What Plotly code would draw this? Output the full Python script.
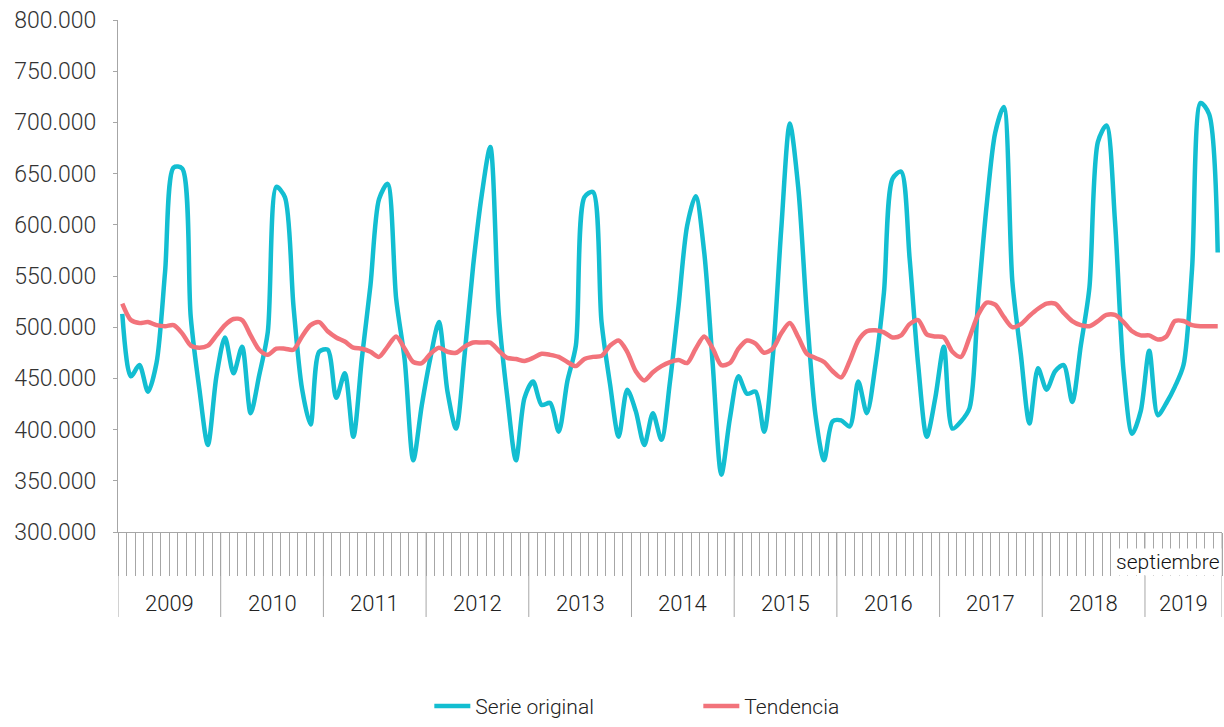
import plotly.graph_objects as go

# ---- data (valores mensuales, ene 2009 - sep 2019) ----
YEARS = ["2009", "2010", "2011", "2012", "2013", "2014",
         "2015", "2016", "2017", "2018", "2019"]
MONTHS_PER_YEAR = [12, 12, 12, 12, 12, 12, 12, 12, 12, 12, 9]
LAST_MONTH = "septiembre"

SERIE_ORIGINAL = [
    513000, 452000, 463000, 437000, 465000, 554000, 656000, 655000, 510000, 440000, 385000, 452000,
    490000, 455000, 481000, 416000, 453000, 495000, 637000, 627000, 521000, 440000, 405000, 476000,
    478000, 431000, 455000, 393000, 470000, 541000, 625000, 640000, 528000, 468000, 370000, 424000,
    470000, 505000, 437000, 401000, 473000, 560000, 629000, 676000, 512000, 431000, 370000, 431000,
    447000, 424000, 426000, 398000, 447000, 482000, 627000, 632000, 505000, 444000, 393000, 439000,
    418000, 385000, 416000, 390000, 447000, 521000, 599000, 628000, 573000, 463000, 356000, 411000,
    452000, 435000, 437000, 398000, 470000, 596000, 699000, 635000, 512000, 414000, 370000, 408000,
    409000, 403000, 447000, 416000, 463000, 534000, 645000, 652000, 567000, 463000, 393000, 431000,
    481000, 401000, 408000, 421000, 525000, 619000, 690000, 715000, 545000, 473000, 406000, 460000,
    439000, 457000, 463000, 427000, 482000, 538000, 681000, 697000, 603000, 457000, 396000, 418000,
    477000, 414000, 426000, 442000, 463000, 557000, 719000, 708000, 573000,
]

TENDENCIA = [
    523000, 507000, 504000, 505000, 502000, 501000, 502000, 494000, 482000, 480000, 482000, 492000,
    502000, 508000, 507000, 492000, 478000, 473000, 479000, 479000, 478000, 491000, 502000, 505000,
    496000, 490000, 486000, 480000, 479000, 476000, 471000, 481000, 491000, 479000, 466000, 465000,
    474000, 480000, 476000, 475000, 481000, 485000, 485000, 485000, 477000, 470000, 469000, 467000,
    470000, 474000, 473000, 471000, 466000, 462000, 469000, 471000, 472000, 482000, 487000, 476000,
    457000, 448000, 456000, 462000, 466000, 468000, 465000, 479000, 491000, 479000, 463000, 465000,
    479000, 487000, 484000, 475000, 479000, 494000, 504000, 490000, 474000, 470000, 466000, 457000,
    451000, 467000, 487000, 496000, 497000, 495000, 490000, 492000, 503000, 507000, 493000, 491000,
    490000, 476000, 471000, 490000, 512000, 524000, 522000, 510000, 500000, 503000, 511000, 518000,
    523000, 523000, 514000, 506000, 502000, 501000, 506000, 512000, 512000, 505000, 496000, 492000,
    492000, 488000, 491000, 506000, 506000, 502000, 501000, 501000, 501000,
]

CYAN = "#13BED1"
RED = "#F2737B"
GRAY = "#A6A6A6"
FONT = "Roboto"

n = len(SERIE_ORIGINAL)
x = list(range(n))

fig = go.Figure()
fig.add_trace(go.Scatter(x=x, y=SERIE_ORIGINAL, name="Serie original", mode="lines",
                         line=dict(color=CYAN, width=4.5, shape="spline", smoothing=0.8)))
fig.add_trace(go.Scatter(x=x, y=TENDENCIA, name="Tendencia", mode="lines",
                         line=dict(color=RED, width=4.5, shape="spline", smoothing=0.8)))

# year labels and dividers below the month ticks
start = 0
bounds = [-0.5]
for year, m in zip(YEARS, MONTHS_PER_YEAR):
    fig.add_annotation(x=start + (m - 1) / 2, y=-0.14, xref="x", yref="paper",
                       text=year, showarrow=False, yanchor="middle",
                       font=dict(family=FONT, size=22, color="#222222", weight=300))
    start += m
    bounds.append(start - 0.5)
for b in bounds:
    fig.add_shape(type="line", xref="x", yref="paper", x0=b, x1=b, y0=0, y1=-0.166,
                  line=dict(color=GRAY, width=1))

fig.add_annotation(x=n - 0.5, y=-0.058, xref="x", yref="paper", text=LAST_MONTH,
                   showarrow=False, xanchor="right", yanchor="middle", bgcolor="white",
                   borderpad=1, font=dict(family=FONT, size=21, color="#111111", weight=300))

fig.update_layout(
    width=1224, height=727,
    margin=dict(l=118, r=2, t=20, b=194),
    plot_bgcolor="white", paper_bgcolor="white",
    separators=",.",
    font=dict(family=FONT, size=20, color="#333333"),
    showlegend=True,
    legend=dict(orientation="h", x=0.282, xanchor="left", y=-0.378, yanchor="bottom",
                font=dict(family=FONT, size=21, color="#222222", weight=300),
                entrywidth=218, entrywidthmode="pixels", itemwidth=36),
    xaxis=dict(range=[-0.5, n - 0.5], showgrid=False, zeroline=False,
               showline=True, linecolor=GRAY, linewidth=1,
               tickmode="array", tickvals=[i - 0.5 for i in range(n + 1)],
               ticks="outside", ticklen=43, tickcolor=GRAY, tickwidth=1,
               showticklabels=False),
    yaxis=dict(range=[300000, 800000], dtick=50000, tickformat=",.0f",
               showgrid=False, zeroline=False, showline=True, linecolor=GRAY, linewidth=1,
               ticks="outside", ticklen=4, tickcolor=GRAY,
               tickfont=dict(family=FONT, size=23, color="#333333", weight=300),
               ticklabelstandoff=12),
)

fig.write_html("out.html", config={"displayModeBar": False},
               post_script="document.body.style.margin='0';document.body.style.overflow='hidden';")
